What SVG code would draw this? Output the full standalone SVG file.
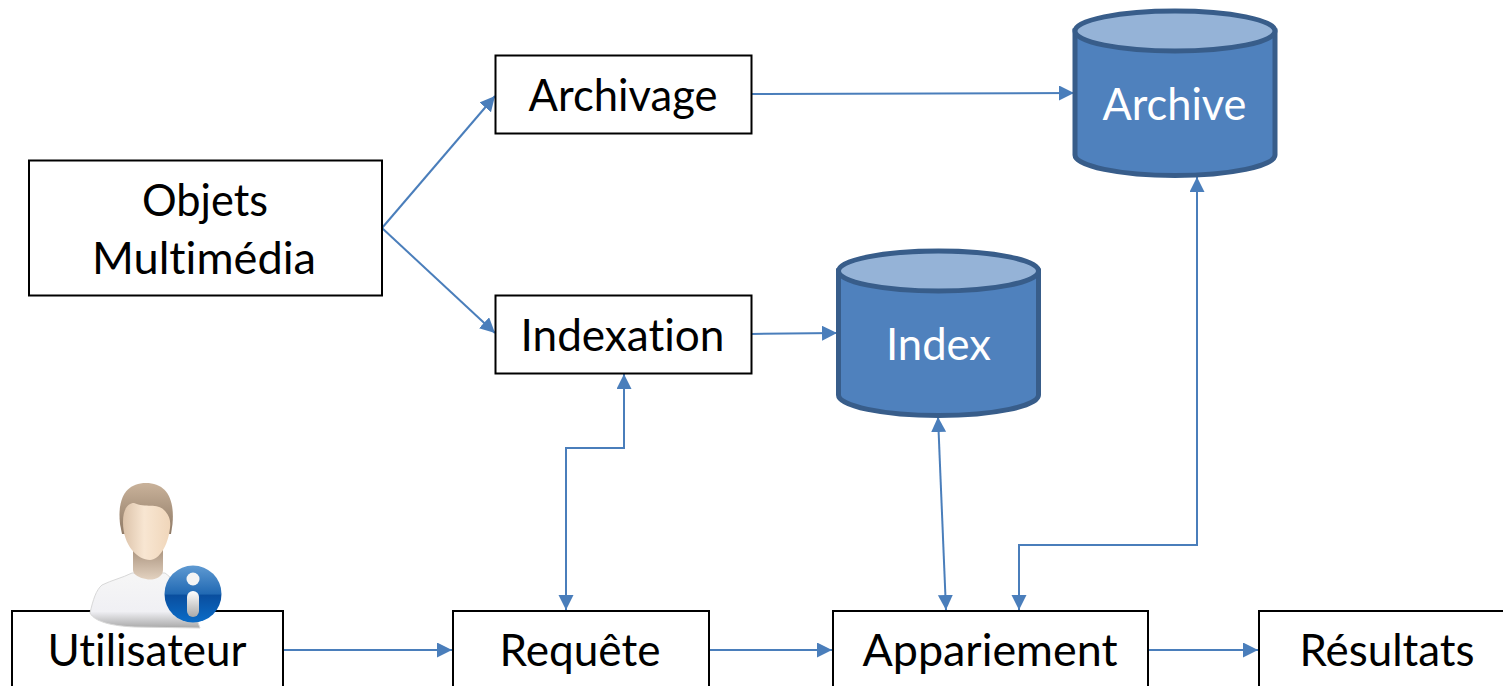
<svg xmlns="http://www.w3.org/2000/svg" width="1503" height="686" viewBox="0 0 1503 686">
<style>
.box{fill:#fff;stroke:#000;stroke-width:2}
.t{font-family:"Lato","Open Sans",sans-serif;font-size:44px;text-anchor:middle;fill:#000;font-variant-ligatures:none}
.w{fill:#fff}
.body{fill:#4f81bd;stroke:#385d8a;stroke-width:5}
.top{fill:#95b3d7;stroke:#385d8a;stroke-width:5}
.c{fill:none;stroke:#4a7ebb;stroke-width:2}
</style>
<defs>
<marker id="a" markerUnits="userSpaceOnUse" markerWidth="16" markerHeight="16" refX="15" refY="7.5" orient="auto-start-reverse"><path d="M0 0L15 7.5L0 15Z" fill="#4a7ebb"/></marker>
<linearGradient id="hair" x1="0" y1="0" x2="0" y2="1"><stop offset="0" stop-color="#c9b29a"/><stop offset="1" stop-color="#8f7a66"/></linearGradient>
<linearGradient id="face" x1="0" y1="0" x2="1" y2="0"><stop offset="0" stop-color="#dcc3aa"/><stop offset=".45" stop-color="#f8e6d2"/><stop offset="1" stop-color="#f0d6ba"/></linearGradient>
<linearGradient id="neck" x1="0" y1="0" x2="0" y2="1"><stop offset="0" stop-color="#a8917c"/><stop offset="1" stop-color="#e3d2c0"/></linearGradient>
<linearGradient id="shirt" x1="0" y1="0" x2="0" y2="1"><stop offset="0" stop-color="#f6f6f6"/><stop offset=".7" stop-color="#f0f0f4"/><stop offset="1" stop-color="#a8a8a8"/></linearGradient>
<linearGradient id="info" x1="0" y1="0" x2="0" y2="1"><stop offset="0" stop-color="#5f9ad2"/><stop offset=".5" stop-color="#2169b3"/><stop offset=".52" stop-color="#0a4e9e"/><stop offset="1" stop-color="#0a6cc8"/></linearGradient>
<linearGradient id="bar" x1="0" y1="0" x2="0" y2="1"><stop offset="0" stop-color="#fff"/><stop offset="1" stop-color="#a9a9a9"/></linearGradient>
</defs>
<g id="connectors" class="c">
<path d="M382 228L495 96" marker-end="url(#a)"/>
<path d="M382 228L495 333" marker-end="url(#a)"/>
<path d="M751 94L1074 93" marker-end="url(#a)"/>
<path d="M751 334L837 333" marker-end="url(#a)"/>
<path d="M566 610V448H624V374" marker-start="url(#a)" marker-end="url(#a)"/>
<path d="M946 610L938 417" marker-start="url(#a)" marker-end="url(#a)"/>
<path d="M1019 610V545H1197V177" marker-start="url(#a)" marker-end="url(#a)"/>
<path d="M283 650H452" marker-end="url(#a)"/>
<path d="M709 650H832" marker-end="url(#a)"/>
<path d="M1148 650H1258" marker-end="url(#a)"/>
</g>
<g id="objets"><rect class="box" x="29" y="160.500" width="353" height="135"/><text class="t" x="205" y="216" textLength="126" lengthAdjust="spacingAndGlyphs">Objets</text><text class="t" x="204" y="274" textLength="224" lengthAdjust="spacingAndGlyphs">Multimédia</text></g>
<g id="archivage"><rect class="box" x="495.500" y="55.500" width="256" height="78"/><text class="t" x="623" y="111" textLength="189" lengthAdjust="spacingAndGlyphs">Archivage</text></g>
<g id="indexation"><rect class="box" x="495.500" y="295.500" width="256" height="78"/><text class="t" x="622.500" y="351" textLength="204" lengthAdjust="spacingAndGlyphs">Indexation</text></g>
<g id="archive"><path class="body" d="M1075 31V155C1075 166 1120 175.500 1175 175.500S1275 166 1275 155V31Z"/><ellipse class="top" cx="1175" cy="31" rx="100" ry="20"/><text class="t w" x="1174.500" y="120" textLength="144" lengthAdjust="spacingAndGlyphs">Archive</text></g>
<g id="index"><path class="body" d="M838.500 271V395C838.500 406 883 415.500 938.500 415.500S1038.500 406 1038.500 395V271Z"/><ellipse class="top" cx="938.500" cy="271" rx="100" ry="20"/><text class="t w" x="938.500" y="360" textLength="105" lengthAdjust="spacingAndGlyphs">Index</text></g>
<g id="utilisateur"><rect class="box" x="12" y="611" width="271" height="90"/><text class="t" x="147" y="666" textLength="199" lengthAdjust="spacingAndGlyphs">Utilisateur</text></g>
<g id="requete"><rect class="box" x="453" y="611" width="256" height="90"/><text class="t" x="580" y="666" textLength="161" lengthAdjust="spacingAndGlyphs">Requête</text></g>
<g id="appariement"><rect class="box" x="833" y="611" width="315" height="90"/><text class="t" x="990" y="666" textLength="255" lengthAdjust="spacingAndGlyphs">Appariement</text></g>
<g id="resultats"><rect class="box" x="1259" y="611" width="260" height="90"/><text class="t" x="1387" y="666" textLength="175" lengthAdjust="spacingAndGlyphs">Résultats</text></g>
<g id="user-icon">
<path d="M90 613C93 600 96 590 102 585C112 580 122 578 132 573H165C172 578 180 588 190 600L200 628L135 627C112 626 95 622 90 613Z" fill="url(#shirt)" stroke="#d8d8d8" stroke-width="1"/>
<path d="M133 548H163V570C163 578 152 581 146 579C140 578 133 575 133 570Z" fill="url(#neck)"/>
<path d="M120 524C117 497 127 483 146 483C165 483 175 497 172.500 524L171 534L122 534Z" fill="url(#hair)"/>
<path d="M123 522C123 509 128 503 134 503C145 508 158 503 164 510C169 515 171 520 170 528C168 546 159 560 150 560C138 560 123 546 123 522Z" fill="url(#face)"/>
<circle cx="193" cy="594" r="28.500" fill="url(#info)"/>
<circle cx="193" cy="579" r="6.500" fill="#f4f4f4"/>
<rect x="187" y="591" width="12" height="26" rx="6" fill="url(#bar)"/>
</g>
</svg>
